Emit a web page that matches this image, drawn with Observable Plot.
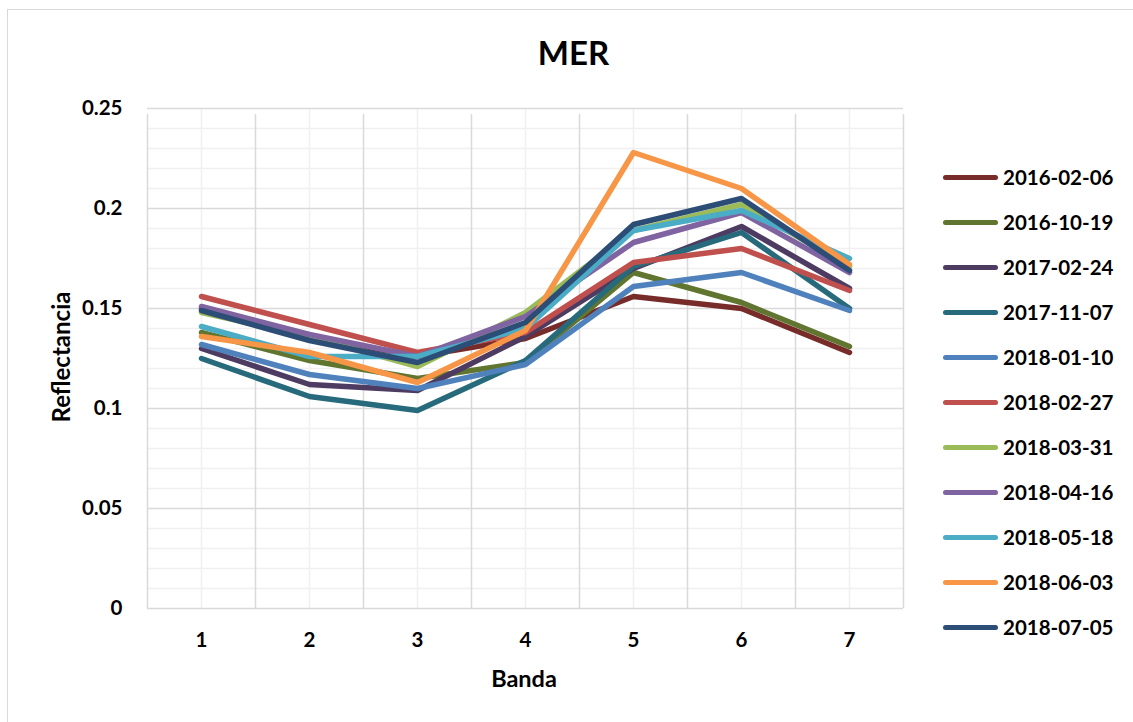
<!DOCTYPE html>
<html>
<head>
<meta charset="utf-8">
<script src="https://cdn.jsdelivr.net/npm/d3@7"></script>
<script src="https://cdn.jsdelivr.net/npm/@observablehq/plot@0.6"></script>
<style>
  html, body { margin: 0; padding: 0; background: #fff; }
  #wrap { position: relative; width: 1133px; height: 722px; overflow: hidden; font-family: Lato, "Open Sans", sans-serif; font-weight: 700; color: #000; }
  #border { position: absolute; left: 7px; top: 9px; width: 1300px; height: 900px; border-left: 1.5px solid #d9d9d9; border-top: 1.5px solid #d9d9d9; }
  #chart { position: absolute; left: 0; top: 0; }
  .ov { position: absolute; white-space: nowrap; }
  #title { left: 0; width: 1147px; text-align: center; top: 32px; font-size: 33px; line-height: 40px; }
  #ytitle { left: 60px; top: 357px; font-size: 24px; transform: translate(-50%, -50%) rotate(-90deg); }
  #xtitle { left: 524px; top: 678px; font-size: 23.5px; transform: translate(-50%, -50%); }
  #legend { left: 943px; top: 0; }
  .lg { position: absolute; left: 0; height: 30px; display: flex; align-items: center; font-size: 20.5px; }
  .lg span.sw { display: inline-block; width: 55px; height: 5px; border-radius: 3px; margin-right: 5px; }
</style>
</head>
<body>
<div id="wrap">
  <div id="border"></div>
  <div id="chart"></div>
  <div class="ov" id="title">MER</div>
  <div class="ov" id="ytitle">Reflectancia</div>
  <div class="ov" id="xtitle">Banda</div>
  <div class="ov" id="legend"></div>
</div>
<script>
// Categories (bands) and tick labels
const bands = [1, 2, 3, 4, 5, 6, 7];
const yTicks = [0, 0.05, 0.1, 0.15, 0.2, 0.25];
const yMinorTicks = [0.01, 0.02, 0.03, 0.04, 0.06, 0.07, 0.08, 0.09, 0.11, 0.12, 0.13, 0.14, 0.16, 0.17, 0.18, 0.19, 0.21, 0.22, 0.23, 0.24];
const bandBoundaries = [0.5, 1.5, 2.5, 3.5, 4.5, 5.5, 6.5, 7.5];

// Series names and colours
const seriesNames = ["2016-02-06", "2016-10-19", "2017-02-24", "2017-11-07", "2018-01-10", "2018-02-27", "2018-03-31", "2018-04-16", "2018-05-18", "2018-06-03", "2018-07-05"];
const seriesColors = ["#772C2A", "#5F7530", "#4D3B62", "#276A7C", "#4F81BD", "#C0504D", "#9BBB59", "#8064A2", "#4BACC6", "#F79646", "#2C4D75"];

// Series values (reflectance per band)
const s2016_02_06 = [0.150, 0.136, 0.126, 0.135, 0.156, 0.150, 0.128];
const s2016_10_19 = [0.138, 0.124, 0.115, 0.123, 0.168, 0.153, 0.131];
const s2017_02_24 = [0.130, 0.112, 0.109, 0.136, 0.170, 0.191, 0.160];
const s2017_11_07 = [0.125, 0.106, 0.099, 0.124, 0.171, 0.188, 0.150];
const s2018_01_10 = [0.132, 0.117, 0.110, 0.122, 0.161, 0.168, 0.149];
const s2018_02_27 = [0.156, 0.142, 0.128, 0.138, 0.173, 0.180, 0.159];
const s2018_03_31 = [0.148, 0.136, 0.121, 0.148, 0.189, 0.202, 0.171];
const s2018_04_16 = [0.151, 0.137, 0.126, 0.146, 0.183, 0.198, 0.168];
const s2018_05_18 = [0.141, 0.126, 0.126, 0.140, 0.189, 0.199, 0.175];
const s2018_06_03 = [0.136, 0.128, 0.113, 0.139, 0.228, 0.210, 0.172];
const s2018_07_05 = [0.149, 0.134, 0.123, 0.143, 0.192, 0.205, 0.169];

const seriesValues = [s2016_02_06, s2016_10_19, s2017_02_24, s2017_11_07, s2018_01_10, s2018_02_27, s2018_03_31, s2018_04_16, s2018_05_18, s2018_06_03, s2018_07_05];

const rows = [];
seriesNames.forEach((name, i) => {
  bands.forEach((b, j) => rows.push({series: name, band: b, value: seriesValues[i][j]}));
});

const plot = Plot.plot({
  width: 1133,
  height: 722,
  marginLeft: 147,
  marginRight: 230,
  marginTop: 108,
  marginBottom: 114,
  style: {background: "transparent", fontFamily: "Lato, 'Open Sans', sans-serif", fontWeight: 700, color: "#000"},
  x: {domain: [0.5, 7.5], axis: null},
  y: {domain: [0, 0.25], axis: null},
  color: {domain: seriesNames, range: seriesColors},
  marks: [
    Plot.ruleY(yMinorTicks, {stroke: "#f0f0f0", strokeWidth: 1.5}),
    Plot.ruleX(bands, {stroke: "#f0f0f0", strokeWidth: 1.5}),
    Plot.ruleY(yTicks.filter(d => d > 0), {stroke: "#d9d9d9", strokeWidth: 1.5}),
    Plot.ruleX(bandBoundaries, {y1: 0, y2: 0.25, stroke: "#d9d9d9", strokeWidth: 1.5, insetBottom: -6}),
    Plot.ruleY([0], {stroke: "#d9d9d9", strokeWidth: 1.5}),
    Plot.axisY(yTicks, {tickSize: 0, tickPadding: 25, fontSize: 20.5, fontWeight: 700, label: null, tickFormat: d => String(d)}),
    Plot.axisX(bands, {tickSize: 0, tickPadding: 24, fontSize: 20.5, fontWeight: 700, label: null, tickFormat: d => String(d)}),
    Plot.line(rows, {x: "band", y: "value", z: "series", stroke: "series", strokeWidth: 5.5, strokeLinejoin: "round", strokeLinecap: "round"})
  ]
});
document.getElementById("chart").appendChild(plot);

const legend = document.getElementById("legend");
seriesNames.forEach((name, i) => {
  const row = document.createElement("div");
  row.className = "lg";
  row.style.top = (177 + i * 45 - 15) + "px";
  const sw = document.createElement("span");
  sw.className = "sw";
  sw.style.background = seriesColors[i];
  const t = document.createElement("span");
  t.textContent = name;
  row.appendChild(sw);
  row.appendChild(t);
  legend.appendChild(row);
});
</script>
</body>
</html>
